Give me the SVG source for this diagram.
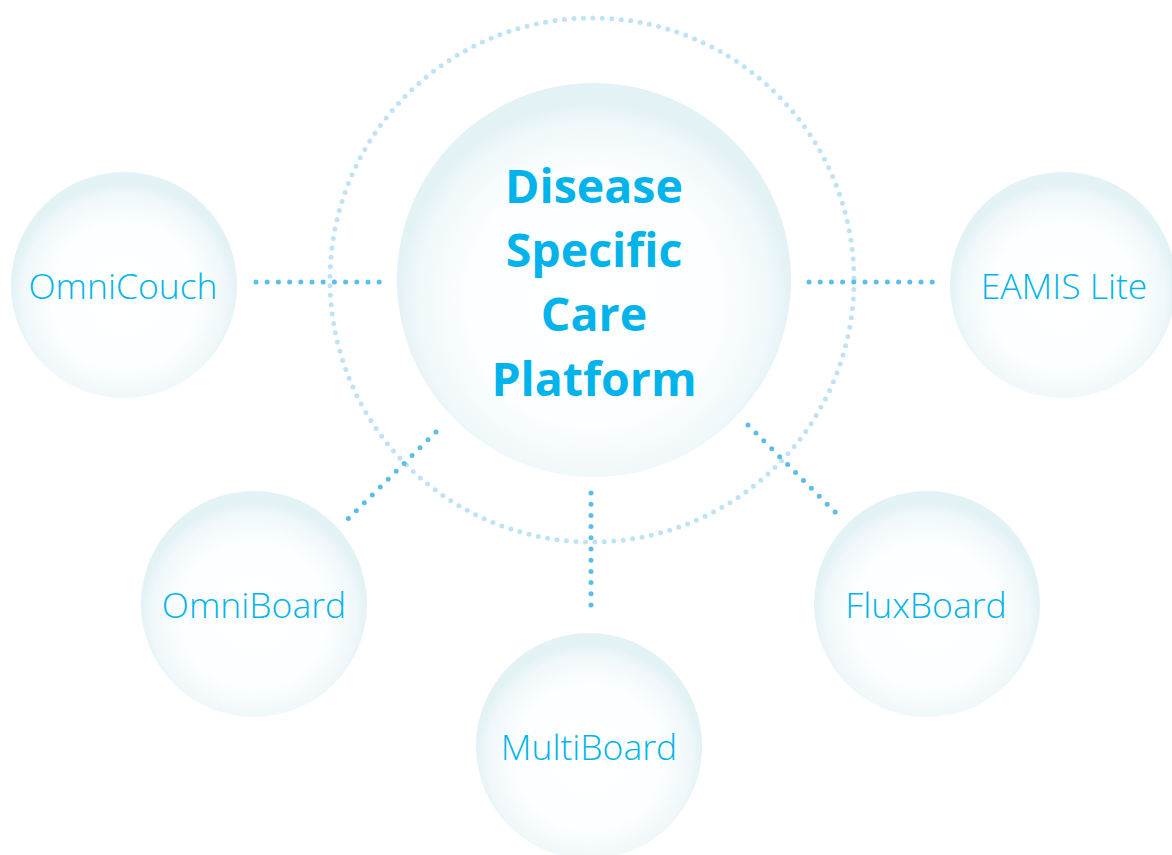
<svg xmlns="http://www.w3.org/2000/svg" width="1172" height="855" viewBox="0 0 1172 855">
<defs>
<radialGradient id="bub" cx="0.5" cy="0.55" r="0.5">
<stop offset="0" stop-color="#ffffff"/>
<stop offset="0.65" stop-color="#fcfeff"/>
<stop offset="0.9" stop-color="#f0f8fa"/>
<stop offset="1" stop-color="#e3f2f5"/>
</radialGradient>
<style>
.bub{fill:url(#bub)}
.lbl{font-family:"Open Sans","Liberation Sans",sans-serif;font-weight:300;font-size:35.5px;fill:#00b4eb;text-anchor:middle}
.main{font-family:"Open Sans","Liberation Sans",sans-serif;font-weight:700;font-size:46.5px;fill:#00b4eb;text-anchor:middle}
.con{stroke:#5bbde9;stroke-width:5;stroke-linecap:round;stroke-dasharray:0 11.2;fill:none}
.ring{stroke:#bfe3f6;stroke-width:5;stroke-linecap:round;stroke-dasharray:0 9.5;fill:none}
</style>
</defs>
<rect width="1172" height="855" fill="#ffffff"/>
<circle class="ring" cx="592" cy="280" r="262"/>
<g id="connectors">
<line class="con" x1="256" y1="282" x2="380" y2="282"/>
<line class="con" x1="809" y1="282" x2="935" y2="282"/>
<line class="con" x1="591" y1="493" x2="591" y2="616"/>
<line class="con" x1="436" y1="432" x2="347" y2="520"/>
<line class="con" x1="748" y1="425" x2="836" y2="513"/>
</g>
<g id="center">
<circle class="bub" cx="594" cy="280" r="197"/>
<text class="main" x="594" y="203">Disease</text>
<text class="main" x="594" y="267">Specific</text>
<text class="main" x="594" y="331">Care</text>
<text class="main" x="594" y="396">Platform</text>
</g>
<g id="omnicouch">
<circle class="bub" cx="124" cy="285" r="113"/>
<text class="lbl" x="123" y="299">OmniCouch</text>
</g>
<g id="eamis">
<circle class="bub" cx="1063" cy="285" r="113"/>
<text class="lbl" x="1064" y="299">EAMIS Lite</text>
</g>
<g id="omniboard">
<circle class="bub" cx="254" cy="604" r="113"/>
<text class="lbl" x="254" y="618">OmniBoard</text>
</g>
<g id="fluxboard">
<circle class="bub" cx="927" cy="604" r="113"/>
<text class="lbl" x="926" y="618">FluxBoard</text>
</g>
<g id="multiboard">
<circle class="bub" cx="589" cy="746" r="113"/>
<text class="lbl" x="589" y="760">MultiBoard</text>
</g>
</svg>
